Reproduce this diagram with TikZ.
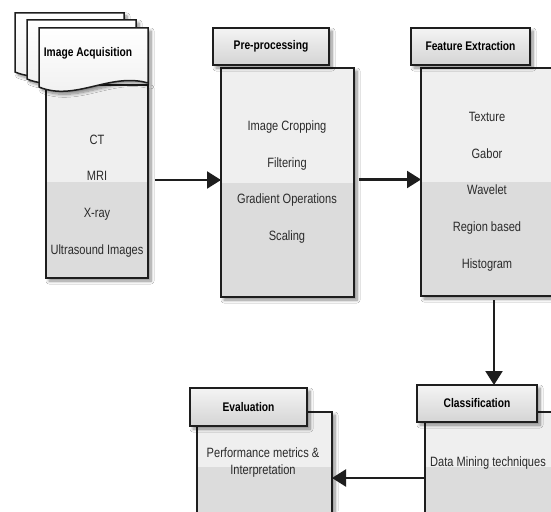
\documentclass[tikz,border=0pt]{standalone}
\usepackage{fontspec}
\setmainfont{Liberation Sans}[FakeStretch=0.82]
\usepackage{tikz}
\usetikzlibrary{
  arrows.meta, positioning, shadows.blur
}
\definecolor{colorLine}{HTML}{1E1E1E}
\definecolor{colorText}{HTML}{2A2A2A}
\definecolor{colorBodyHi}{HTML}{EFEFEF}
\definecolor{colorBodyLo}{HTML}{DCDCDC}
\definecolor{colorHeadHi}{HTML}{F4F4F4}
\definecolor{colorHeadLo}{HTML}{D4D4D4}

\begin{document}
\begin{tikzpicture}[
  x=1pt, y=-1pt,
  softshadow/.style={blur shadow={shadow xshift=3pt, shadow yshift=-3pt,
    shadow blur steps=8, shadow blur radius=3pt, shadow opacity=45}},
  bodybox/.style={draw=colorLine, line width=1.5pt, fill=colorBodyHi,
    anchor=north west, inner sep=0pt, outer sep=0pt, softshadow,
    path picture={\fill[colorBodyLo] (path picture bounding box.west)
      rectangle (path picture bounding box.south east);}},
  headbox/.style={draw=colorLine, line width=1.5pt, top color=colorHeadHi,
    bottom color=colorHeadLo, anchor=north west, inner sep=0pt, outer sep=0pt,
    softshadow, font=\bfseries\fontsize{12.5}{14}\selectfont},
  docpage/.style={draw=colorLine, line width=1.5pt, top color=white,
    bottom color=colorBodyHi, softshadow},
  itemtext/.style={align=center, text=colorText,
    font=\fontsize{13.5}{36.7}\selectfont},
  flow/.style={draw=colorLine, line width=2.2pt,
    -{Triangle[length=14pt,width=17pt]}}
]
\useasboundingbox (0,0) rectangle (551,511);
\clip (0,0) rectangle (551,511);
\fill[white] (0,0) rectangle (551,511);

% image acquisition
\node[bodybox, minimum width=102pt, minimum height=193pt] (acqbody) at (46,85) {};
\foreach \dx/\dy in {-24/-15, -12/-8, 0/0} {
  \draw[docpage, shift={(\dx,\dy)}] (39,28) -- (148,28) -- (148,83)
    .. controls (110,72) and (75,102) .. (39,87) -- cycle;
}
\node[font=\bfseries\fontsize{12.5}{14}\selectfont] (acqhead) at (88,53) {Image Acquisition};
\node[itemtext] (acqtext) at (97,196) {CT\\MRI\\X-ray\\Ultrasound Images};

% pre-processing
\node[bodybox, minimum width=133pt, minimum height=229pt] (prebody) at (221,68) {};
\node[headbox, minimum width=116pt, minimum height=37pt] (prehead) at (213,28) {Pre-processing};
\node[itemtext] (pretext) at (287,182) {Image Cropping\\Filtering\\Gradient Operations\\Scaling};

% feature extraction
\node[bodybox, minimum width=150pt, minimum height=228pt] (featbody) at (421,68) {};
\node[headbox, minimum width=119pt, minimum height=37pt] (feathead) at (411,28) {Feature Extraction};
\node[itemtext] (feattext) at (487,191.5) {Texture\\Gabor\\Wavelet\\Region based\\Histogram};

% classification
\node[bodybox, minimum width=150pt, minimum height=110pt] (clsbody) at (425,412) {};
\node[headbox, minimum width=120pt, minimum height=37pt] (clshead) at (417,385) {Classification};
\node[itemtext] (clstext) at (488,463) {Data Mining techniques};

% evaluation
\node[bodybox, minimum width=135pt, minimum height=110pt] (evalbody) at (197,412) {};
\node[headbox, minimum width=117pt, minimum height=38pt] (evalhead) at (190,388) {Evaluation};
\node[itemtext, font=\fontsize{13.5}{17}\selectfont] (evaltext) at (263,463) {Performance metrics \&\\Interpretation};

% connectors
\draw[flow] ([xshift=7pt, yshift=1.5pt]acqbody.east) -- ([yshift=1.5pt]prebody.west |- acqbody.east);
\draw[flow] ([xshift=5pt, yshift=3pt]prebody.east) -- ([yshift=3pt]featbody.west |- prebody.east);
\draw[flow] ([xshift=-2pt, yshift=-4pt]featbody.south) -- ([xshift=-2pt]featbody.south |- clshead.north);
\draw[flow] ([yshift=-11pt]clsbody.west) -- ([yshift=-11pt]evalbody.east |- clsbody.west);
\end{tikzpicture}
\end{document}
